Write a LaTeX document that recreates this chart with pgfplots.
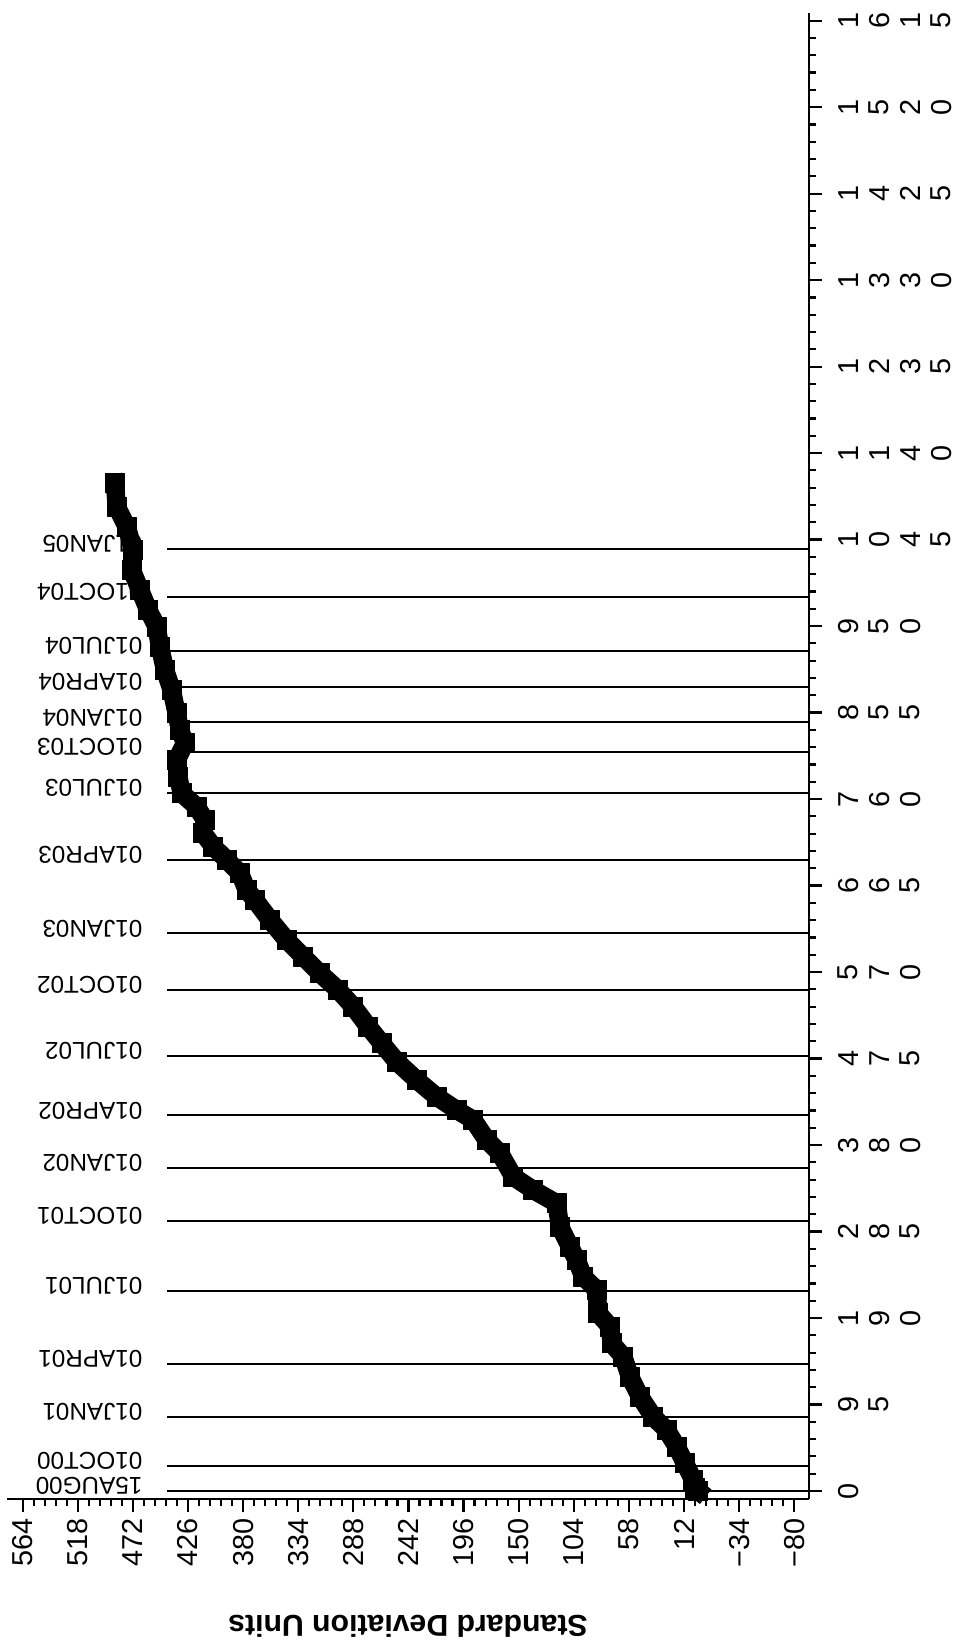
\documentclass[border=0pt]{standalone}
\usepackage{pgfplots}
\pgfplotsset{compat=1.18}
\usepackage{fontspec}
\setmainfont{Liberation Sans}
\newcommand{\rd}[1]{\makebox[3.1mm][c]{\rotatebox{90}{#1}}}
\newcommand{\dl}[3]{\node[rotate=180, anchor=west, inner sep=0pt, font=\fontsize{6.9}{8}\selectfont] at (axis cs:463.6,#2) {#3};}
\begin{document}
\begin{tikzpicture}
\begin{axis}[
  scale only axis, width=80.2mm, height=148.6mm,
  xmin=-92.3, xmax=577.1, ymin=-8.8, ymax=1623.4,
  x dir=reverse,
  axis x line*=bottom, axis y line*=right,
  axis line style={-, line width=0.25mm, black},
  tick align=outside,
  major tick length=1.3mm, minor tick length=0.7mm,
  tick style={black, line width=0.22mm},
  minor x tick num=4, minor y tick num=4,
  clip=false,
  xtick={-80,-34,12,58,104,150,196,242,288,334,380,426,472,518,564},
  xticklabels={−80,−34,12,58,104,150,196,242,288,334,380,426,472,518,564},
  xticklabel style={rotate=90, anchor=east, inner sep=0.6mm, font=\fontsize{8.2}{9}\selectfont},
  ytick={0,95,190,285,380,475,570,665,760,855,950,1045,1140,1235,1330,1425,1520,1615},
  yticklabels={{\rd{0}},{\rd{9}\rd{5}},{\rd{1}\rd{9}\rd{0}},{\rd{2}\rd{8}\rd{5}},{\rd{3}\rd{8}\rd{0}},{\rd{4}\rd{7}\rd{5}},{\rd{5}\rd{7}\rd{0}},{\rd{6}\rd{6}\rd{5}},{\rd{7}\rd{6}\rd{0}},{\rd{8}\rd{5}\rd{5}},{\rd{9}\rd{5}\rd{0}},{\rd{1}\rd{0}\rd{4}\rd{5}},{\rd{1}\rd{1}\rd{4}\rd{0}},{\rd{1}\rd{2}\rd{3}\rd{5}},{\rd{1}\rd{3}\rd{3}\rd{0}},{\rd{1}\rd{4}\rd{2}\rd{5}},{\rd{1}\rd{5}\rd{2}\rd{0}},{\rd{1}\rd{6}\rd{1}\rd{5}}},
  yticklabel style={anchor=west, inner sep=1mm, font=\fontsize{8.2}{9}\selectfont},
  xlabel={Standard Deviation Units},
  xlabel style={at={(axis description cs:0.5,-0.0855)}, anchor=center, rotate=180, font=\bfseries\fontsize{8.6}{10}\selectfont},
]
% reference lines
\addplot[black, line width=0.2mm] coordinates {(443.6,0) (-92.3,0)};
\addplot[black, line width=0.2mm] coordinates {(443.6,27.5) (-92.3,27.5)};
\addplot[black, line width=0.2mm] coordinates {(443.6,81.3) (-92.3,81.3)};
\addplot[black, line width=0.2mm] coordinates {(443.6,140.0) (-92.3,140.0)};
\addplot[black, line width=0.2mm] coordinates {(443.6,219.7) (-92.3,219.7)};
\addplot[black, line width=0.2mm] coordinates {(443.6,296.4) (-92.3,296.4)};
\addplot[black, line width=0.2mm] coordinates {(443.6,355.3) (-92.3,355.3)};
\addplot[black, line width=0.2mm] coordinates {(443.6,412.5) (-92.3,412.5)};
\addplot[black, line width=0.2mm] coordinates {(443.6,478.0) (-92.3,478.0)};
\addplot[black, line width=0.2mm] coordinates {(443.6,550.7) (-92.3,550.7)};
\addplot[black, line width=0.2mm] coordinates {(443.6,612.4) (-92.3,612.4)};
\addplot[black, line width=0.2mm] coordinates {(443.6,693.1) (-92.3,693.1)};
\addplot[black, line width=0.2mm] coordinates {(443.6,767.2) (-92.3,767.2)};
\addplot[black, line width=0.2mm] coordinates {(443.6,811.7) (-92.3,811.7)};
\addplot[black, line width=0.2mm] coordinates {(443.6,844.1) (-92.3,844.1)};
\addplot[black, line width=0.2mm] coordinates {(443.6,883.1) (-92.3,883.1)};
\addplot[black, line width=0.2mm] coordinates {(443.6,922.7) (-92.3,922.7)};
\addplot[black, line width=0.2mm] coordinates {(443.6,982.0) (-92.3,982.0)};
\addplot[black, line width=0.2mm] coordinates {(443.6,1034.9) (-92.3,1034.9)};
% date labels
\dl{}{5.5}{15AUG00}
\dl{}{33.0}{01OCT00}
\dl{}{86.8}{01JAN01}
\dl{}{145.5}{01APR01}
\dl{}{225.2}{01JUL01}
\dl{}{301.9}{01OCT01}
\dl{}{360.8}{01JAN02}
\dl{}{418.0}{01APR02}
\dl{}{483.5}{01JUL02}
\dl{}{556.2}{01OCT02}
\dl{}{617.9}{01JAN03}
\dl{}{698.6}{01APR03}
\dl{}{772.7}{01JUL03}
\dl{}{817.2}{01OCT03}
\dl{}{849.6}{01JAN04}
\dl{}{888.6}{01APR04}
\dl{}{928.2}{01JUL04}
\dl{}{987.5}{01OCT04}
\dl{}{1040.4}{01JAN05}
% cumulative series
\addplot[black, line width=1.85mm, line join=round, line cap=rect, mark=square*, mark size=0.95mm, mark options={line width=0.1mm}] coordinates {
(0,0) (2.9,3.0) (4.3,12.1) (11.2,30.4) (18.1,48.7) (26.5,67.0) (37.7,81.6) (48.8,103.6)
(57.1,125.5) (62.7,147.5) (72.4,162.2) (73.8,180.5) (83.6,195.2) (84.9,220.8) (96.1,235.4)
(101.6,253.7) (107.2,268.3) (115.5,290.3) (118.3,316.0) (137.8,330.6) (154.5,345.2)
(165.6,370.9) (176.7,385.5) (187.9,407.5) (201.8,418.5) (218.5,433.1) (235.1,451.4)
(251.8,471.6) (264.4,491.8) (275.5,510.0) (288.1,532.0) (300.6,550.3) (315.9,568.6)
(329.8,586.9) (343.7,605.2) (357.6,627.2) (370.1,649.2) (377.0,660.1) (382.6,678.5)
(393.7,693.1) (404.9,707.7) (413.3,722.4) (411.8,737.0) (418.8,751.6) (431.3,766.4)
(434.1,784.6) (435.5,802.9) (428.5,821.3) (432.7,835.9) (435.5,854.2) (439.6,879.8)
(445.2,901.8) (449.4,927.4) (452.2,949.4) (459.2,967.7) (466.1,989.7) (473.0,1011.6)
(471.7,1033.6) (477.2,1059.2) (485.5,1081.2) (487.0,1107.5)
};
\end{axis}
\pgfresetboundingbox
\path[use as bounding box] (-0.7mm,-15.1mm) rectangle (94.9mm,149.9mm);
\end{tikzpicture}
\end{document}
